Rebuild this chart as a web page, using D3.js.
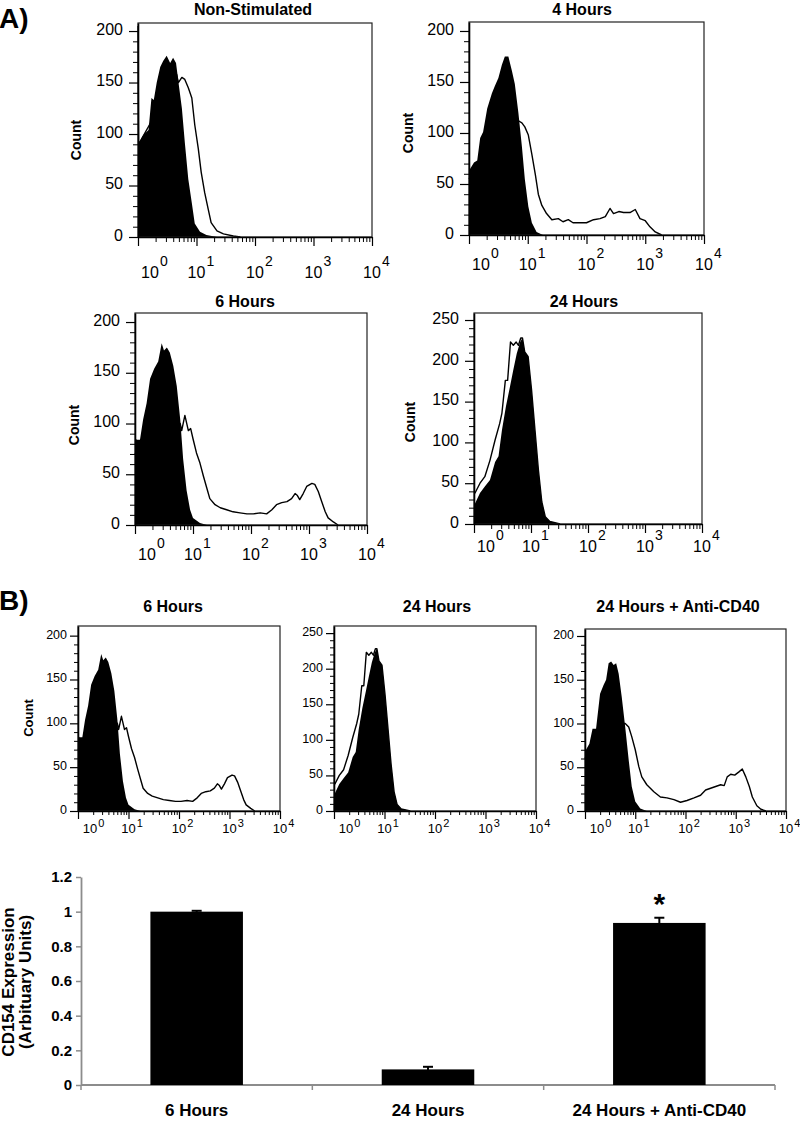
<!DOCTYPE html>
<html><head><meta charset="utf-8">
<script src="https://cdn.jsdelivr.net/npm/d3@7"></script>
<style>
body{margin:0;background:#fff}
svg{display:block}
text{font-family:"Liberation Sans",Arial,Helvetica,sans-serif;fill:#000}
</style>
</head><body>
<svg id="c" width="800" height="1121"></svg>
<script>
// ---------- DATA (x = log10 fluorescence, y = count) ----------
const nsFilled = [[0,92],[0.02,92],[0.09,99],[0.18,104],[0.23,135],[0.27,133],[0.32,150],[0.38,165],[0.43,171],[0.49,176],[0.55,169],[0.6,174],[0.65,169],[0.69,151],[0.75,125],[0.8,92],[0.86,56],[0.92,33],[0.97,13],[1.06,5],[1.17,2],[1.35,0]];
const nsOpen = [[0,205],[0.01,90],[0.6,150],[0.66,158],[0.69,150],[0.75,155],[0.8,153],[0.86,145],[0.92,135],[0.97,109],[1.03,86],[1.08,63],[1.14,43],[1.2,27],[1.25,14],[1.35,6],[1.46,3],[1.63,1],[1.75,0]];

const h4Filled = [[0,65],[0.02,65],[0.085,71],[0.14,73],[0.19,95],[0.24,101],[0.31,124],[0.39,139],[0.44,146],[0.5,154],[0.56,167],[0.61,175],[0.67,175],[0.73,161],[0.78,148],[0.84,120],[0.9,87],[0.95,55],[1.01,28],[1.07,12],[1.15,3],[1.26,0]];
const h4Open = [[0,55],[0.5,100],[0.78,108],[0.84,112],[0.9,110],[0.95,106],[1.01,98],[1.07,79],[1.13,59],[1.18,40],[1.24,29],[1.32,21],[1.41,15],[1.52,16],[1.6,13],[1.69,15],[1.77,12],[1.88,12],[2.0,12],[2.12,15],[2.23,16],[2.32,18],[2.4,26],[2.46,21],[2.55,23],[2.63,22],[2.74,22],[2.83,25],[2.91,16],[3.0,14],[3.08,8],[3.17,3],[3.28,0]];

const h6Filled = [[0,86],[0.03,84],[0.086,84],[0.14,104],[0.2,120],[0.26,144],[0.33,154],[0.4,161],[0.46,179],[0.5,172],[0.55,175],[0.6,170],[0.66,157],[0.72,137],[0.78,104],[0.83,65],[0.89,34],[0.95,15],[1.0,7],[1.12,2],[1.24,0]];
const h6Open = [[0,70],[0.4,100],[0.78,100],[0.805,93],[0.86,108],[0.92,93],[0.96,95],[1.0,85],[1.06,71],[1.12,61],[1.18,48],[1.24,36],[1.29,26],[1.38,20],[1.47,17],[1.58,15],[1.69,13],[1.81,12],[1.93,11],[2.04,11],[2.16,12],[2.27,11],[2.36,15],[2.44,20],[2.53,22],[2.62,23],[2.7,26],[2.76,31],[2.8,29],[2.84,25],[2.9,31],[2.96,38],[3.05,41],[3.1,40],[3.16,33],[3.22,23],[3.28,13],[3.33,7],[3.42,3],[3.5,0]];

const h24Filled = [[0,25],[0.018,25],[0.105,38],[0.19,46],[0.28,54],[0.37,76],[0.43,83],[0.49,115],[0.56,144],[0.63,168],[0.69,189],[0.75,209],[0.81,223],[0.85,228],[0.89,211],[0.95,205],[1.01,164],[1.07,115],[1.13,66],[1.19,27],[1.25,9],[1.33,3],[1.51,0]];
const h24Open = [[0,38],[0.018,38],[0.105,50],[0.19,58],[0.28,78],[0.37,103],[0.45,123],[0.49,136],[0.55,176],[0.59,176],[0.64,223],[0.69,219],[0.74,223],[0.78,219],[0.82,228],[0.85,228],[0.89,211],[0.95,205],[1.01,164],[1.07,115],[1.13,66],[1.19,27],[1.25,9],[1.33,3],[1.51,0]];

const cd40Filled = [[0,70],[0.02,70],[0.087,77],[0.15,94],[0.22,94],[0.3,134],[0.37,144],[0.42,150],[0.47,169],[0.52,171],[0.57,167],[0.62,169],[0.67,157],[0.73,131],[0.8,96],[0.87,58],[0.93,28],[1.0,11],[1.1,3],[1.23,0]];
const cd40Open = [[0,60],[0.3,100],[0.77,100],[0.8,100],[0.87,96],[0.93,85],[1.0,70],[1.07,51],[1.13,39],[1.23,30],[1.37,22],[1.5,16],[1.63,15],[1.77,13],[1.9,10],[2.03,12],[2.17,15],[2.3,18],[2.4,24],[2.5,26],[2.6,28],[2.7,30],[2.77,29],[2.83,39],[2.9,42],[2.98,41],[3.07,45],[3.13,48],[3.2,39],[3.27,28],[3.33,16],[3.42,6],[3.5,2],[3.6,0]];

const decadeExps = [0,1,2,3,4];
const minorMult = [2,3,4,5,6,7,8,9];

const barCats = ["6 Hours","24 Hours","24 Hours + Anti-CD40"];
const barVals = [1.0, 0.09, 0.935];
const barErrs = [0.005, 0.015, 0.03];
const barSig  = ["", "", "*"];
const barTicks = [0,0.2,0.4,0.6,0.8,1,1.2];

// ---------- LAYOUT ----------
const panels = [
  {title:"Non-Stimulated", tx:253, ty:15, x0:138, x1:372, y0:23, y1:237, ymax:207.8, ytop:200, count:[76,140], xlab:41, filled:nsFilled, open:nsOpen},
  {title:"4 Hours", tx:582, ty:15, x0:469, x1:704, y0:22, y1:235, ymax:208.8, ytop:200, count:[408,133], xlab:35, filled:h4Filled, open:h4Open},
  {title:"6 Hours", tx:245, ty:307, x0:135, x1:367, y0:313, y1:525, ymax:208.9, ytop:200, count:[74,425], xlab:35, filled:h6Filled, open:h6Open},
  {title:"24 Hours", tx:584, ty:307, x0:474, x1:702, y0:313, y1:524, ymax:258.6, ytop:250, count:[410,422], xlab:28, filled:h24Filled, open:h24Open},
  {title:"6 Hours", tx:173, ty:612, x0:78, x1:280, y0:626, y1:811, ymax:211, ytop:200, count:[28,718], xlab:22, small:true, filled:h6Filled, open:h6Open},
  {title:"24 Hours", tx:437, ty:612, x0:334, x1:536, y0:626, y1:811, ymax:260, ytop:250, count:null, xlab:22, small:true, filled:h24Filled, open:h24Open},
  {title:"24 Hours + Anti-CD40", tx:678, ty:612, x0:585, x1:786, y0:629, y1:811, ymax:208, ytop:200, count:null, xlab:22, small:true, filled:cd40Filled, open:cd40Open}
];

const svg = d3.select("#c");

function drawHist(p){
  const S = p.small ? {maj:8,min:4,pad:3,yfont:12.5,xfont:13,sfont:11,raise:6,cfont:13,shift:12}
                    : {maj:9,min:5,pad:6,yfont:16,xfont:16,sfont:14,raise:12,cfont:14,shift:12};
  const g = svg.append("g");
  const x = d3.scaleLog().domain([1,1e4]).range([p.x0,p.x1]);
  const y = d3.scaleLinear().domain([0,p.ymax]).range([p.y1,p.y0]);
  const fx = d => x(Math.pow(10,d[0]));

  g.append("path").datum(p.open)
    .attr("d", d3.line().x(fx).y(d=>y(d[1])))
    .attr("fill","none").attr("stroke","#000").attr("stroke-width",1.4).attr("stroke-linejoin","round");
  g.append("path").datum(p.filled)
    .attr("d", d3.area().x(fx).y0(y(0)).y1(d=>y(d[1])))
    .attr("fill","#000");

  g.append("rect").attr("x",p.x0).attr("y",p.y0).attr("width",p.x1-p.x0).attr("height",p.y1-p.y0)
    .attr("fill","none").attr("stroke","#222").attr("stroke-width",1.2);

  // y axis
  const yMaj = d3.range(0,p.ytop+1,50);
  const yMin = d3.range(0,p.ytop+1,10).filter(v=>v%50!==0);
  const gy = g.append("g").attr("transform",`translate(${p.x0},0)`)
    .call(d3.axisLeft(y).tickValues(yMaj).tickSize(S.maj).tickSizeOuter(0).tickPadding(S.pad));
  gy.selectAll("text").attr("font-size",S.yfont).attr("font-family","Liberation Sans, Arial, sans-serif").attr("dy","0.2em");
  gy.select(".domain").attr("stroke-width",1.6);
  gy.selectAll(".tick line").attr("stroke-width",1.2);
  const gym = g.append("g").attr("transform",`translate(${p.x0},0)`)
    .call(d3.axisLeft(y).tickValues(yMin).tickSize(S.min).tickSizeOuter(0).tickFormat(""));
  gym.select(".domain").remove();

  // x axis
  const xMaj = decadeExps.map(e=>Math.pow(10,e));
  const xMin = [];
  decadeExps.slice(0,4).forEach(e=>minorMult.forEach(m=>xMin.push(m*Math.pow(10,e))));
  const gx = g.append("g").attr("transform",`translate(0,${p.y1})`)
    .call(d3.axisBottom(x).tickValues(xMaj).tickSize(S.maj).tickSizeOuter(0).tickFormat(""));
  gx.select(".domain").attr("stroke-width",1.6);
  gx.selectAll(".tick line").attr("stroke-width",1.2);
  const gxm = g.append("g").attr("transform",`translate(0,${p.y1})`)
    .call(d3.axisBottom(x).tickValues(xMin).tickSize(S.min).tickSizeOuter(0).tickFormat(""));
  gxm.select(".domain").remove();

  decadeExps.forEach(e=>{
    const tx = x(Math.pow(10,e)) - 0.556*S.xfont + (e===0 ? S.shift : 0);
    const t = g.append("text").attr("x",tx).attr("y",p.y1+p.xlab).attr("font-size",S.xfont);
    t.append("tspan").text("10");
    t.append("tspan").attr("font-size",S.sfont).attr("dy",-S.raise).attr("dx",1).text(String(e));
  });

  g.append("text").attr("x",p.tx).attr("y",p.ty).attr("text-anchor","middle")
    .attr("font-weight","bold").attr("font-size",16).text(p.title);

  if(p.count){
    g.append("text").attr("transform",`translate(${p.count[0]},${p.count[1]}) rotate(-90)`)
      .attr("text-anchor","middle").attr("dy","0.35em").attr("font-weight","bold")
      .attr("font-size",S.cfont).text("Count");
  }
}
panels.forEach(drawHist);

svg.append("text").attr("x",-1).attr("y",28).attr("font-weight","bold").attr("font-size",28).text("A)");
svg.append("text").attr("x",-1).attr("y",610).attr("font-weight","bold").attr("font-size",28).text("B)");

// ---------- BAR CHART ----------
const bx = d3.scaleBand().domain(barCats).range([81,775]).paddingInner(0.6).paddingOuter(0.3);
const by = d3.scaleLinear().domain([0,1.2]).range([1085,877]);
const axisGrey = "#8c8c8c";

const gby = svg.append("g").attr("transform","translate(81,0)")
  .call(d3.axisLeft(by).tickValues(barTicks).tickSize(5).tickSizeOuter(0).tickPadding(4).tickFormat(String));
gby.select(".domain").attr("stroke",axisGrey).attr("stroke-width",1.8);
gby.selectAll(".tick line").attr("stroke",axisGrey).attr("stroke-width",1.5);
gby.selectAll("text").attr("font-size",15).attr("font-weight","bold").attr("font-family","Liberation Sans, Arial, sans-serif");

svg.append("line").attr("x1",81).attr("x2",775).attr("y1",by(0)).attr("y2",by(0))
  .attr("stroke",axisGrey).attr("stroke-width",1.8);
d3.range(barCats.length+1).forEach(i=>{
  const xx = 81 + i*bx.step();
  svg.append("line").attr("x1",xx).attr("x2",xx).attr("y1",by(0)).attr("y2",by(0)+5)
    .attr("stroke",axisGrey).attr("stroke-width",1.5);
});

barCats.forEach((c,i)=>{
  const cx = bx(c)+bx.bandwidth()/2;
  const v = barVals[i], e = barErrs[i];
  svg.append("rect").attr("x",bx(c)).attr("width",bx.bandwidth())
    .attr("y",by(v)).attr("height",by(0)-by(v)).attr("fill","#000");
  svg.append("line").attr("x1",cx).attr("x2",cx).attr("y1",by(v-e)).attr("y2",by(v+e))
    .attr("stroke","#000").attr("stroke-width",2);
  svg.append("line").attr("x1",cx-5).attr("x2",cx+5).attr("y1",by(v+e)).attr("y2",by(v+e))
    .attr("stroke","#000").attr("stroke-width",2);
  if(barSig[i]){
    svg.append("text").attr("x",cx).attr("y",by(v+e)-4).attr("text-anchor","middle")
      .attr("font-weight","bold").attr("font-size",30).text(barSig[i]);
  }
  svg.append("text").attr("x",cx).attr("y",1116).attr("text-anchor","middle")
    .attr("font-weight","bold").attr("font-size",17).text(c);
});

const yt = svg.append("g").attr("font-weight","bold").attr("font-size",17);
yt.append("text").attr("transform","translate(14,982) rotate(-90)").attr("text-anchor","middle").text("CD154 Expression");
yt.append("text").attr("transform","translate(31,982) rotate(-90)").attr("text-anchor","middle").text("(Arbituary Units)");
</script>
</body></html>
